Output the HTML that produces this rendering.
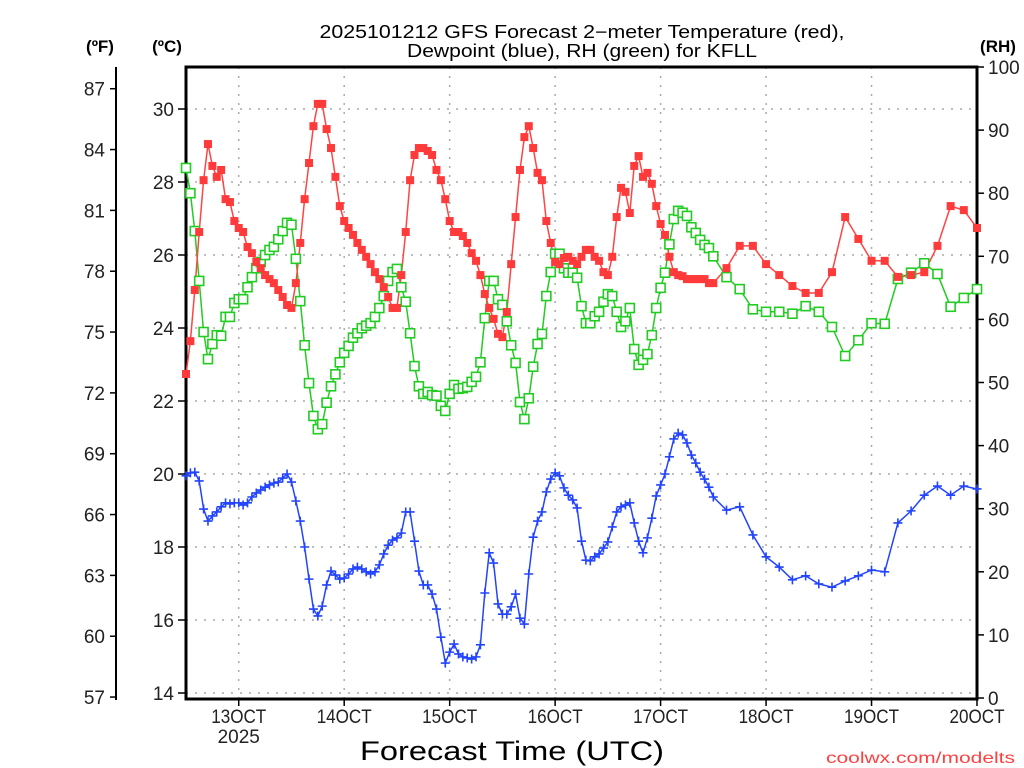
<!DOCTYPE html>
<html><head><meta charset="utf-8"><style>
html,body{margin:0;padding:0;background:#fff;}
svg{display:block;font-family:"Liberation Sans",sans-serif;}
</style></head><body>
<svg id="chart" width="1024" height="768" viewBox="0 0 1024 768" xmlns="http://www.w3.org/2000/svg">
<rect x="0" y="0" width="1024" height="768" fill="#fff"/>
<g id="grid"></g>
<g id="axes"></g>
<g id="series"></g>
<text x="582" y="38" font-size="18" text-anchor="middle" textLength="525" lengthAdjust="spacingAndGlyphs">2025101212 GFS Forecast 2−meter Temperature (red),</text>
<text x="582" y="57" font-size="18" text-anchor="middle" textLength="350" lengthAdjust="spacingAndGlyphs">Dewpoint (blue), RH (green) for KFLL</text>
<text x="100" y="52" font-size="17" font-weight="bold" text-anchor="middle">(ºF)</text>
<text x="167" y="52" font-size="17" font-weight="bold" text-anchor="middle">(ºC)</text>
<text x="998" y="52" font-size="17" font-weight="bold" text-anchor="middle">(RH)</text>
<text x="512" y="760" font-size="27" text-anchor="middle" textLength="304" lengthAdjust="spacingAndGlyphs">Forecast Time (UTC)</text>
<text x="1015" y="763" font-size="16" text-anchor="end" fill="#ff4040" textLength="189" lengthAdjust="spacingAndGlyphs">coolwx.com/modelts</text>
</svg>
<script>
const temps = [22.74,23.64,25.04,26.63,28.05,29.04,28.44,28.14,28.33,27.53,27.45,26.93,26.74,26.63,26.22,26.05,25.81,25.64,25.45,25.34,25.23,25.04,24.85,24.63,24.55,25.23,26.33,27.53,28.52,29.53,30.14,30.14,29.45,28.93,28.14,27.34,26.93,26.74,26.55,26.33,26.14,25.95,25.75,25.53,25.34,25.12,24.85,24.55,24.55,25.45,26.63,28.05,28.74,28.93,28.93,28.85,28.74,28.33,28.05,27.53,26.93,26.63,26.63,26.52,26.33,26.05,25.84,25.45,24.93,24.55,24.25,23.84,23.75,24.44,25.75,27.04,28.33,29.23,29.53,28.93,28.25,28.05,26.93,26.33,25.81,25.75,25.92,25.95,25.84,25.75,25.95,26.14,26.14,25.95,25.84,25.53,25.45,25.95,27.04,27.84,27.73,27.15,28.44,28.71,28.14,28.25,27.95,27.34,26.85,26.55,25.95,25.53,25.45,25.42,25.34,25.34,25.34,25.34,25.34,25.23,25.23,
25.64,26.25,26.25,25.75,25.45,25.15,24.96,24.96,25.53,27.04,26.44,25.84,25.84,25.40,25.45,25.53,26.25,27.34,27.23,26.74];
const dewpoints = [19.95,20.03,20.05,19.81,19.04,18.71,18.85,18.96,19.10,19.21,19.18,19.21,19.21,19.15,19.21,19.37,19.48,19.56,19.64,19.70,19.75,19.78,19.89,20.00,19.78,19.26,18.71,18.00,17.12,16.30,16.11,16.38,16.96,17.34,17.23,17.12,17.15,17.26,17.40,17.45,17.40,17.32,17.26,17.32,17.51,17.81,18.05,18.19,18.25,18.38,18.96,18.96,18.16,17.34,16.96,16.96,16.71,16.30,15.53,14.82,15.12,15.34,15.07,14.99,14.96,14.93,14.99,15.32,16.74,17.84,17.56,16.44,16.16,16.16,16.36,16.71,16.05,15.89,17.26,18.27,18.71,18.96,19.51,19.86,20.03,19.95,19.62,19.42,19.29,19.07,18.16,17.64,17.62,17.73,17.81,17.97,18.14,18.55,18.96,19.10,19.15,19.21,18.66,18.16,17.84,18.25,18.79,19.40,19.70,20.00,20.47,20.96,21.12,21.07,20.85,20.52,20.30,20.05,19.86,19.64,19.37,
19.01,19.10,18.33,17.73,17.45,17.10,17.21,16.99,16.90,17.07,17.21,17.37,17.32,18.66,18.99,19.42,19.67,19.42,19.67,19.59];
const rh = [84.0,80.0,74.0,66.1,58.0,53.7,56.1,57.5,57.4,60.4,60.4,62.6,63.2,63.2,65.1,66.7,68.1,69.1,70.2,71.0,71.5,72.7,74.0,75.3,75.0,69.6,62.9,55.9,49.9,44.7,42.6,43.4,46.8,49.4,51.3,53.2,54.7,55.8,57.1,57.8,58.6,59.0,59.4,60.4,61.8,63.7,66.1,67.5,68.0,65.1,62.8,57.8,52.6,49.4,48.2,48.5,48.0,47.9,46.3,45.5,48.2,49.6,49.0,49.1,49.3,50.1,50.9,53.2,60.2,66.1,66.1,63.2,62.3,59.7,55.9,53.1,46.9,44.2,47.5,52.5,56.1,57.7,63.7,67.5,70.4,70.4,68.1,67.4,67.4,66.6,62.1,59.4,59.4,60.5,61.2,62.8,64.0,63.7,61.2,58.8,59.7,61.8,55.3,52.8,53.6,54.5,57.5,61.8,65.0,67.4,71.9,75.9,77.2,76.9,76.4,74.6,73.7,72.6,71.8,71.3,70.0,
66.7,64.8,61.6,61.2,61.2,60.9,62.1,61.2,58.8,54.2,56.7,59.4,59.3,66.4,67.4,68.9,67.2,62.0,63.4,64.8];
const dayLabels = ["13OCT","14OCT","15OCT","16OCT","17OCT","18OCT","19OCT","20OCT"];
const celsiusTicks = [14,16,18,20,22,24,26,28,30];
const fahrenheitTicks = [57,60,63,66,69,72,75,78,81,84,87];
const rhTicks = [0,10,20,30,40,50,60,70,80,90,100];

const NS = "http://www.w3.org/2000/svg";
const L = 186, R = 977, T = 67, B = 699;
// forecast hours: hourly to 120, then 3-hourly to 180
const hours = [];
for (let h = 0; h <= 120; h++) hours.push(h);
for (let h = 123; h <= 180; h += 3) hours.push(h);
function xScale(h){ return L + (R - L) * h / 180; }
function yC(c){ return 109 + (30 - c) * 36.5; }
function yF(f){ return yC((f - 32) * 5 / 9); }
function yRH(v){ return 698 - v * 6.31; }
function mk(tag, attrs, parent){ const e = document.createElementNS(NS, tag); for (const k in attrs) e.setAttribute(k, attrs[k]); parent.appendChild(e); return e; }

const grid = document.getElementById('grid');
const axes = document.getElementById('axes');
const series = document.getElementById('series');

celsiusTicks.forEach(c => {
  const y = yC(c);
  const g = mk('line', {x1:L, x2:R, y1:y, y2:y, stroke:'#aaa', 'stroke-width':1.5, 'stroke-dasharray':'2 7'}, grid);
  
  
  const t = mk('line', {x1:178, x2:L, y1:y, y2:y, stroke:'#000', 'stroke-width':1.5}, axes);
  
  
  const tx = mk('text', {x:174, y:y+7, 'font-size':19, 'text-anchor':'end', fill:'#222'}, axes);
  tx.textContent = c;
  
  
});
fahrenheitTicks.forEach(f => {
  const y = yF(f);
  const t = mk('line', {x1:110, x2:116, y1:y, y2:y, stroke:'#000', 'stroke-width':1.5}, axes);
  
  
  const tx = mk('text', {x:105, y:y+7, 'font-size':19, 'text-anchor':'end', fill:'#222'}, axes);
  tx.textContent = f;
  
  
});
rhTicks.forEach(v => {
  const y = yRH(v);
  const t = mk('line', {x1:R, x2:R+7, y1:y, y2:y, stroke:'#000', 'stroke-width':1.5}, axes);
  
  
  const tx = mk('text', {x:988, y:y+7, 'font-size':19, fill:'#222'}, axes);
  tx.textContent = v;
  
  
});
dayLabels.forEach((d, i) => {
  const x = xScale(12 + 24 * i);
  const g = mk('line', {x1:x, x2:x, y1:T, y2:B, stroke:'#aaa', 'stroke-width':1.5, 'stroke-dasharray':'2 7'}, grid);
  
  
  const t = mk('line', {x1:x, x2:x, y1:B, y2:B+7, stroke:'#000', 'stroke-width':1.5}, axes);
  
  
  const tx = mk('text', {x:x, y:723, 'font-size':19, 'text-anchor':'middle', fill:'#222', textLength:55, lengthAdjust:'spacingAndGlyphs'}, axes);
  tx.textContent = d;
  
  
});
const yr = mk('text', {x:xScale(12), y:743, 'font-size':19, 'text-anchor':'middle', fill:'#222'}, axes);
yr.textContent = '2025';



const fax = mk('line', {x1:116, x2:116, y1:T, y2:B+1, stroke:'#000', 'stroke-width':2}, axes);


const frame = mk('rect', {x:L, y:T, width:R-L, height:B-T, fill:'none', stroke:'#000', 'stroke-width':3}, axes);



function drawLine(vals, yfn, color, name){
  const pts = vals.map((v, i) => xScale(hours[i]).toFixed(1) + ',' + yfn(v).toFixed(1)).join(' ');
  const p = mk('polyline', {points:pts, fill:'none', stroke:color, 'stroke-width':1.5}, series);
  
  
}
drawLine(rh, yRH, '#22cc22', 'rh-line');
drawLine(temps, yC, '#ff4444', 'temperature-line');
drawLine(dewpoints, yC, '#2244ff', 'dewpoint-line');

rh.forEach((v, i) => {
  const x = xScale(hours[i]), y = yRH(v);
  const m = mk('rect', {x:x-4.5, y:y-4.5, width:9, height:9, fill:'#fff', stroke:'#22cc22', 'stroke-width':1.6}, series);
  
  
});
temps.forEach((v, i) => {
  const x = xScale(hours[i]), y = yC(v);
  const m = mk('rect', {x:x-4, y:y-4, width:8, height:8, fill:'#ff3a3a'}, series);
  
  
});
dewpoints.forEach((v, i) => {
  const x = xScale(hours[i]), y = yC(v);
  const m = mk('path', {d:`M${x-4.5},${y}H${x+4.5}M${x},${y-4.5}V${y+4.5}`, stroke:'#2244ff', 'stroke-width':1.6}, series);
  
  
});
</script>
</body></html>
